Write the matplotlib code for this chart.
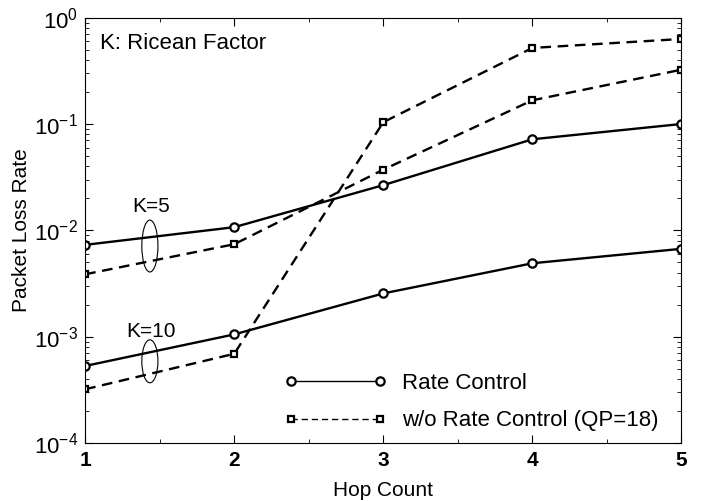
import numpy as np
import matplotlib
matplotlib.use('Agg')
import matplotlib.pyplot as plt
from matplotlib.patches import Ellipse

plt.rcParams['font.family'] = ['Liberation Sans', 'DejaVu Sans']
plt.rcParams['mathtext.fontset'] = 'custom'
plt.rcParams['mathtext.rm'] = 'Liberation Sans:bold'
plt.rcParams['mathtext.it'] = 'Liberation Sans:bold'

hops = [1, 2, 3, 4, 5]
rc_k5 = [0.0073, 0.0107, 0.0266, 0.0718, 0.100]
norc_k5 = [0.00386, 0.0074, 0.0372, 0.167, 0.324]
rc_k10 = [0.00053, 0.00105, 0.00255, 0.0049, 0.0067]
norc_k10 = [0.00032, 0.00069, 0.104, 0.519, 0.63]

fig = plt.figure(figsize=(7.04, 5.01), dpi=100)
ax = fig.add_axes([0.121, 0.1158, 0.847, 0.849])

dash = (4.5, 2.8)
ax.plot(hops, rc_k5, 'k-', lw=1.7, marker='o', ms=6, mfc='white', mew=1.6, label='Rate Control')
ax.plot(hops, norc_k5, 'k--', lw=1.7, marker='s', ms=5, mfc='white', mew=1.6, dashes=dash,
        label='w/o Rate Control (QP=18)')
ax.plot(hops, rc_k10, 'k-', lw=1.7, marker='o', ms=6, mfc='white', mew=1.6)
ax.plot(hops, norc_k10, 'k--', lw=1.7, marker='s', ms=5, mfc='white', mew=1.6, dashes=dash)

ax.set_yscale('log')
ax.set_ylim(1e-4, 1)
ax.set_xlim(1, 5)
ax.set_xticks(hops)
ax.set_xticks(np.arange(1, 5.01, 0.5), minor=True)
ax.tick_params(which='both', direction='in', top=True, right=True)
ax.tick_params(which='major', length=6)
ax.tick_params(which='minor', length=3)
ax.tick_params(axis='y', which='major', labelsize=16, pad=5)
ax.tick_params(axis='x', which='major', labelsize=15, pad=6)
for lab in ax.get_xticklabels():
    lab.set_fontweight('bold')
ax.set_xlabel('Hop Count', fontsize=15, labelpad=8)
ax.set_ylabel('Packet Loss Rate', fontsize=15, labelpad=2)

ax.text(0.025, 0.94, 'K: Ricean Factor', transform=ax.transAxes, fontsize=16, va='center')
ax.text(0.11, 0.555, 'K=5', transform=ax.transAxes, fontsize=15, ha='center', va='center')
ax.text(0.11, 0.262, 'K=10', transform=ax.transAxes, fontsize=15, ha='center', va='center')
ax.add_patch(Ellipse((0.1085, 0.463), 0.027, 0.122, transform=ax.transAxes, fill=False, lw=0.8, color='k'))
ax.add_patch(Ellipse((0.1085, 0.192), 0.027, 0.101, transform=ax.transAxes, fill=False, lw=0.8, color='k'))

leg = ax.legend(loc='lower right', bbox_to_anchor=(0.995, -0.02), frameon=False, fontsize=16, numpoints=2,
                handlelength=4.6, handletextpad=0.7, labelspacing=0.75)
for ln in leg.get_lines():
    ln.set_linewidth(1.0)

fig.savefig('out.png', dpi=100)
